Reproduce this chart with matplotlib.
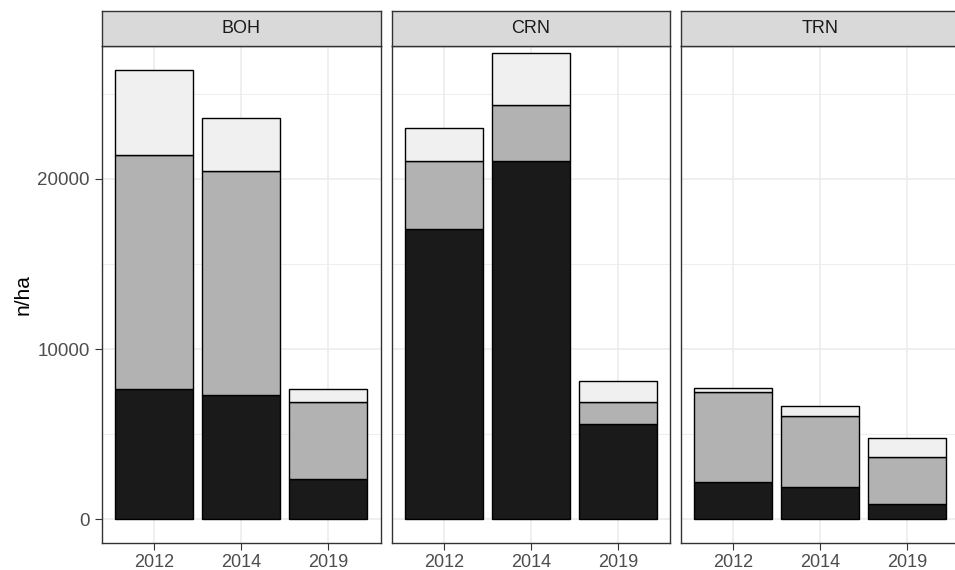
import numpy as np
import matplotlib
matplotlib.use("Agg")
import matplotlib.pyplot as plt

plt.rcParams["font.family"] = ["Liberation Sans", "DejaVu Sans"]

# Stand density (n/ha) by site and survey year, split into three size classes
sites = ["BOH", "CRN", "TRN"]
years = ["2012", "2014", "2019"]

# bottom layer (dark)
class_small = {
    "BOH": [7650, 7290, 2350],
    "CRN": [17070, 21070, 5610],
    "TRN": [2180, 1920, 920],
}
# middle layer (grey)
class_medium = {
    "BOH": [13760, 13180, 4530],
    "CRN": [3960, 3250, 1300],
    "TRN": [5310, 4180, 2730],
}
# top layer (light)
class_large = {
    "BOH": [5000, 3120, 765],
    "CRN": [1940, 3100, 1190],
    "TRN": [235, 550, 1100],
}

layer_colors = ["#1a1a1a", "#b2b2b2", "#f0f0f0"]
frame_col = "#333333"
grid_col = "#ebebeb"

W, H = 955, 570
fig = plt.figure(figsize=(W / 100, H / 100), dpi=100)

panel_left = [102, 391.5, 681]
panel_w = 278.5
panel_top, panel_bot = 46, 543
strip_top = 11

ylo, yhi = -1390, 27810

for i, site in enumerate(sites):
    x0 = panel_left[i]
    ax = fig.add_axes([x0 / W, (H - panel_bot) / H, panel_w / W, (panel_bot - panel_top) / H])
    ax.set_xlim(0.4, 3.6)
    ax.set_ylim(ylo, yhi)
    ax.set_axisbelow(True)

    # grid
    for yv in [5000, 15000, 25000]:
        ax.axhline(yv, color=grid_col, lw=0.6, zorder=0)
    for yv in [0, 10000, 20000]:
        ax.axhline(yv, color=grid_col, lw=1.1, zorder=0)
    for xv in [1, 2, 3]:
        ax.axvline(xv, color=grid_col, lw=1.1, zorder=0)

    xs = np.arange(1, len(years) + 1)
    bottom = np.zeros(len(years))
    for vals, col in zip([class_small[site], class_medium[site], class_large[site]], layer_colors):
        v = np.array(vals, dtype=float)
        ax.bar(xs, v, width=0.9, bottom=bottom, color=col, edgecolor="black",
               linewidth=1.0, zorder=2)
        bottom += v

    ax.set_xticks(xs)
    ax.set_xticklabels(years)
    ax.tick_params(axis="x", length=5, width=0.8, color=frame_col, labelsize=13,
                   labelcolor="#4d4d4d", pad=3)
    if i == 0:
        ax.set_yticks([0, 10000, 20000])
        ax.set_yticklabels(["0", "10000", "20000"])
        ax.tick_params(axis="y", length=5, width=0.8, color=frame_col, labelsize=13.5,
                       labelcolor="#4d4d4d", pad=4)
        ax.set_ylabel("n/ha", fontsize=15, color="black", labelpad=3)
    else:
        ax.set_yticks([])
    for sp in ax.spines.values():
        sp.set_color(frame_col)
        sp.set_linewidth(1.0)

    # facet strip
    sax = fig.add_axes([x0 / W, (H - panel_top) / H, panel_w / W, (panel_top - strip_top) / H])
    sax.set_facecolor("#d9d9d9")
    sax.set_xticks([])
    sax.set_yticks([])
    for sp in sax.spines.values():
        sp.set_color(frame_col)
        sp.set_linewidth(1.0)
    sax.text(0.5, 0.5, site, transform=sax.transAxes, ha="center", va="center",
             fontsize=13, color="#1a1a1a")

fig.savefig("out.png", dpi=100)
